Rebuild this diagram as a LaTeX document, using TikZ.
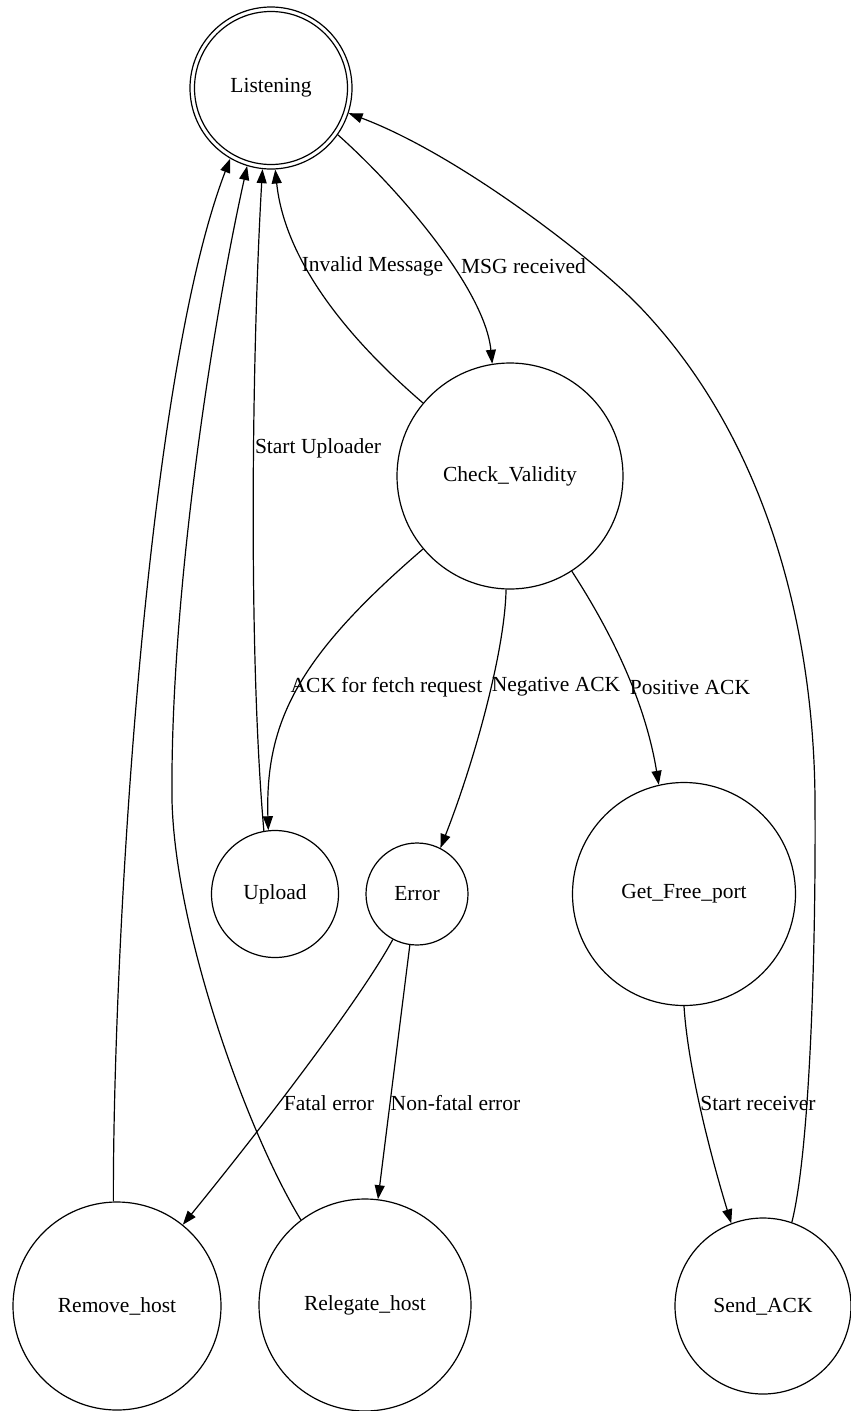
\documentclass[tikz,border=0pt]{standalone}
\usepackage{fontspec}
\setmainfont{Liberation Serif}
\usepackage{tikz}
\usetikzlibrary{arrows.meta}
\definecolor{ink}{HTML}{000000}

\begin{document}
\begin{tikzpicture}[x=1pt,y=-1pt,line width=1.2pt,
  every node/.style={font=\fontsize{21.5}{25}\selectfont,text=ink},
  st/.style={draw=ink,circle,inner sep=0pt},
  lbl/.style={inner sep=0pt},
  arr/.style={draw=ink,-{Triangle[length=14pt,width=10pt]}}]
  \useasboundingbox (0,0) rectangle (851,1411);
  % states
  \node[st,minimum size=162] (listening) at (271,88) {Listening};
  \draw[ink] (listening.center) circle (76.5pt);
  \node[st,minimum size=226] (check) at (510,476) {Check\_Validity};
  \node[st,minimum size=127] (upload) at (275,894) {Upload};
  \node[st,minimum size=102] (error) at (417,894) {Error};
  \node[st,minimum size=223] (gfp) at (684,894) {Get\_Free\_port};
  \node[st,minimum size=208] (remove) at (117,1306) {Remove\_host};
  \node[st,minimum size=212] (relegate) at (365,1305) {Relegate\_host};
  \node[st,minimum size=176] (sendack) at (763,1306) {Send\_ACK};
  % transitions
  \draw[arr] (listening.325) .. controls (400,190) and (485,290) .. (check.99);
  \draw[arr] (check.140) .. controls (315,310) and (282,235) .. (listening.273);
  \draw[arr] (upload.100) .. controls (248,650) and (252,350) .. (listening.264);
  \draw[arr] (check.220) .. controls (300,655) and (265,720) .. (upload.96);
  \draw[arr] (check.268) .. controls (505,650) and (475,760) .. (error.63);
  \draw[arr] (check.303) .. controls (610,630) and (645,700) .. (gfp.103);
  \draw[arr] (error.242) .. controls (360,1000) and (260,1130) .. (remove.51);
  \draw[arr] (error.262) -- (relegate.83);
  \draw[arr] (gfp.270) .. controls (688,1070) and (712,1160) .. (sendack.111);
  \draw[arr] (sendack.71) .. controls (810,1150) and (816,950) .. (815,800)
    .. controls (814,640) and (772,445) .. (640,307)
    .. controls (596,261) and (460,155) .. (listening.342);
  \draw[arr] (remove.92) .. controls (113,950) and (145,380) .. (listening.240);
  \draw[arr] (relegate.127) .. controls (246,1130) and (175,930) .. (172,800)
    .. controls (170,600) and (211,329) .. (listening.253);
  % labels
  \node[lbl] (lmsg) at (523.5,266) {MSG received};
  \node[lbl] (linv) at (372.5,266) {Invalid Message};
  \node[lbl] (lupl) at (318,448) {Start Uploader};
  \node[lbl] (lfet) at (386.5,687) {ACK for fetch request};
  \node[lbl] (lneg) at (556,687) {Negative ACK};
  \node[lbl] (lpos) at (690,687) {Positive ACK};
  \node[lbl] (lfat) at (329,1103) {Fatal error};
  \node[lbl] (lnon) at (455.5,1103) {Non-fatal error};
  \node[lbl] (lrec) at (758,1103) {Start receiver};
\end{tikzpicture}
\end{document}
